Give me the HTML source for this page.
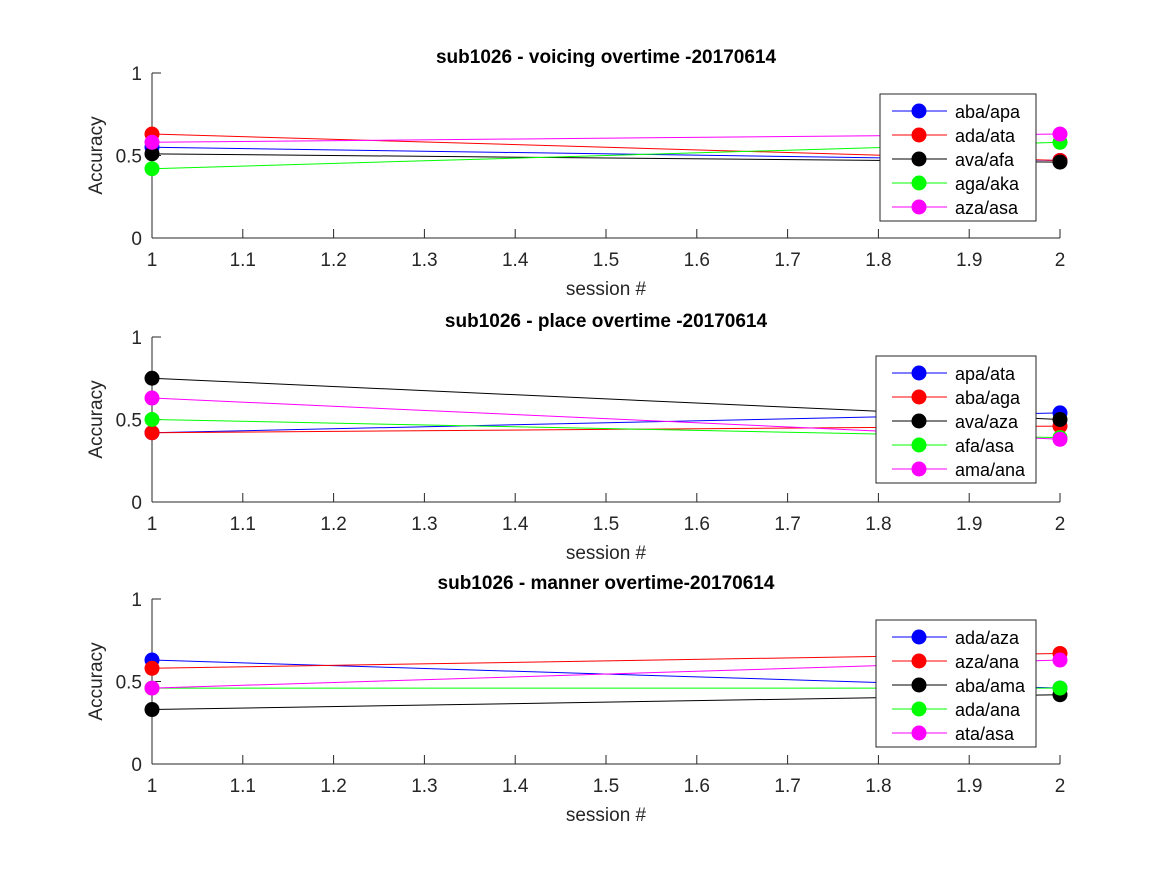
<!DOCTYPE html>
<html><head><meta charset="utf-8"><style>
body{margin:0;background:#fff;font-family:"Liberation Sans",Arial,sans-serif}
svg text{font-family:"Liberation Sans",Arial,sans-serif}
</style></head><body>
<svg id="fig" width="1167" height="875" xmlns="http://www.w3.org/2000/svg"></svg>
<script>
const sessions=[1,2];
const xTicks=[1,1.1,1.2,1.3,1.4,1.5,1.6,1.7,1.8,1.9,2];
const yTicks=[0,0.5,1];
const colors=["#0000ff","#ff0000","#000000","#00ff00","#ff00ff"];
const titles=["sub1026 - voicing overtime -20170614","sub1026 - place overtime -20170614","sub1026 - manner overtime-20170614"];
const labels1=["aba/apa","ada/ata","ava/afa","aga/aka","aza/asa"];
const labels2=["apa/ata","aba/aga","ava/aza","afa/asa","ama/ana"];
const labels3=["ada/aza","aza/ana","aba/ama","ada/ana","ata/asa"];
const vals1=[[0.55,0.47],[0.63,0.47],[0.51,0.46],[0.42,0.58],[0.58,0.63]];
const vals2=[[0.42,0.54],[0.42,0.46],[0.75,0.50],[0.50,0.39],[0.63,0.38]];
const vals3=[[0.63,0.46],[0.58,0.67],[0.33,0.42],[0.46,0.46],[0.46,0.63]];
const panels=[
 {top:73,bot:238,lx:880,ly:94,labels:labels1,vals:vals1},
 {top:337,bot:502,lx:876,ly:356,labels:labels2,vals:vals2},
 {top:599,bot:764,lx:876,ly:620,labels:labels3,vals:vals3}];
const NS="http://www.w3.org/2000/svg";
const svg=document.getElementById('fig');
function mk(t,a,p){const e=document.createElementNS(NS,t);for(const k in a)e.setAttribute(k,a[k]);(p||svg).appendChild(e);return e;}
const X0=152,X1=1060;
const xs=v=>X0+(v-1)*(X1-X0);
panels.forEach((P,pi)=>{
 const g=mk('g',{});
 
 
 const ys=v=>P.bot-v*(P.bot-P.top);
 mk('line',{x1:X0,y1:P.top,x2:X0,y2:P.bot,stroke:'#262626'},g);
 mk('line',{x1:X0,y1:P.bot,x2:X1,y2:P.bot,stroke:'#262626'},g);
 xTicks.forEach(t=>{const x=xs(t);
  mk('line',{x1:x,y1:P.bot,x2:x,y2:P.bot-9,stroke:'#262626'},g);
  const tx=mk('text',{x:x,y:P.bot+28,'font-size':19,'text-anchor':'middle',fill:'#262626'},g);tx.textContent=String(t);
  
  });
 yTicks.forEach(t=>{const y=ys(t);
  mk('line',{x1:X0,y1:y,x2:X0+9,y2:y,stroke:'#262626'},g);
  const tx=mk('text',{x:X0-10,y:y+7,'font-size':19,'text-anchor':'end',fill:'#262626'},g);tx.textContent=String(t);
  
  });
 const ti=mk('text',{x:(X0+X1)/2,y:P.top-10,'font-size':19,'font-weight':'bold','text-anchor':'middle',fill:'#000'},g);ti.textContent=titles[pi];
 
 
 const xl=mk('text',{x:(X0+X1)/2,y:P.bot+57,'font-size':19,'text-anchor':'middle',fill:'#262626'},g);xl.textContent='session #';
 
 
 const yl=mk('text',{x:0,y:0,'font-size':19,'text-anchor':'middle',fill:'#262626',transform:`translate(102,${(P.top+P.bot)/2}) rotate(-90)`},g);yl.textContent='Accuracy';
 
 
 P.vals.forEach((s,i)=>{
  const pts=s.map((v,j)=>xs(sessions[j])+','+ys(v)).join(' ');
  const pl=mk('polyline',{points:pts,fill:'none',stroke:colors[i],'stroke-width':1},g);
  
  
 });
 P.vals.forEach((s,i)=>{s.forEach((v,j)=>{
  const c=mk('circle',{cx:xs(sessions[j]),cy:ys(v),r:7.5,fill:colors[i]},g);
  
  });});
 const lw=1036-P.lx,lh=127;
 const lg=mk('g',{},g);
 
 
 mk('rect',{x:P.lx,y:P.ly,width:lw,height:lh,fill:'#fff',stroke:'#262626'},lg);
 P.labels.forEach((lab,i)=>{const y=P.ly+17+i*24;
  const e=mk('g',{},lg);
  
  
  mk('line',{x1:1036-152+8,y1:y,x2:1036-152+63,y2:y,stroke:colors[i]},e);
  mk('circle',{cx:1036-152+35,cy:y,r:7.5,fill:colors[i]},e);
  const t=mk('text',{x:1036-152+71,y:y+7,'font-size':18,fill:'#000'},e);t.textContent=lab;});
});
</script>
</body></html>
